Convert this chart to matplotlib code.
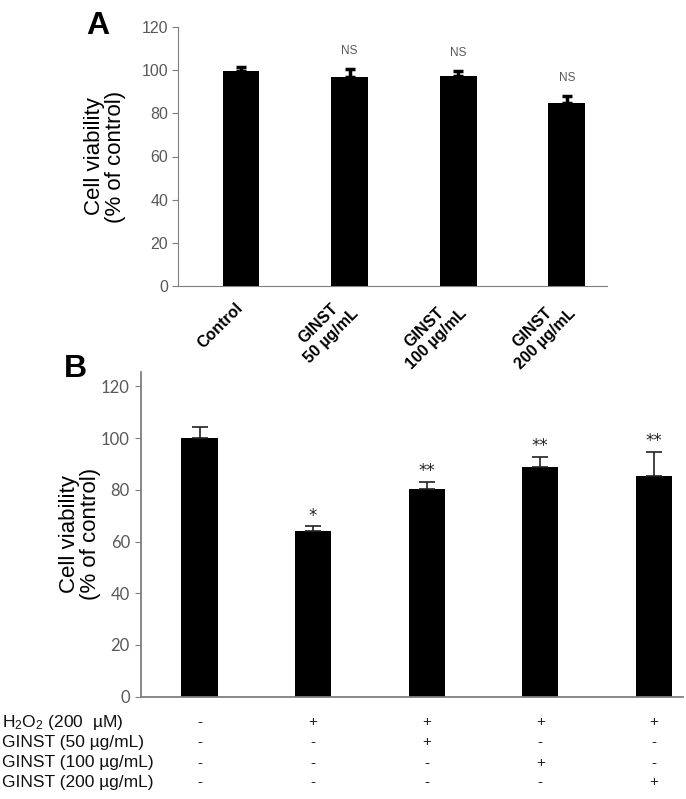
import matplotlib
matplotlib.use("Agg")
import matplotlib.pyplot as plt
import matplotlib.transforms as mtransforms
import numpy as np

plt.rcParams['font.family'] = ['Liberation Sans', 'DejaVu Sans']
plt.rcParams['mathtext.fontset'] = 'custom'
plt.rcParams['mathtext.rm'] = 'Liberation Sans'
plt.rcParams['mathtext.it'] = 'Liberation Sans'

# Panel A data
a_labels = ['Control', 'GINST\n50 µg/mL', 'GINST\n100 µg/mL', 'GINST\n200 µg/mL']
a_values = [99.5, 97.0, 97.5, 85.0]
a_errors = [2.0, 3.5, 2.0, 3.0]
a_marks = ['', 'NS', 'NS', 'NS']
a_yticks = [0, 20, 40, 60, 80, 100, 120]

# Panel B data
b_values = [100.0, 64.0, 80.5, 89.0, 85.5]
b_errors = [4.3, 2.0, 2.6, 3.9, 9.2]
b_marks = ['', '*', '**', '**', '**']
b_yticks = [0, 20, 40, 60, 80, 100, 120]

# treatment table under panel B
row_labels = ['H$_2$O$_2$ (200  µM)', 'GINST (50 µg/mL)', 'GINST (100 µg/mL)', 'GINST (200 µg/mL)']
h2o2 = ['-', '+', '+', '+', '+']
ginst50 = ['-', '-', '+', '-', '-']
ginst100 = ['-', '-', '-', '+', '-']
ginst200 = ['-', '-', '-', '-', '+']

W, H = 686, 799
fig = plt.figure(figsize=(W / 100, H / 100), dpi=100)

def fx(px):
    return px / W

def fy(px):
    return 1 - px / H

grey = '#7f7f7f'
tick_grey = '#595959'

# ---- Panel A ----
axA = fig.add_axes([fx(178), fy(286), fx(607 - 178), (286 - 27) / H])
xa = np.arange(len(a_values))
axA.bar(xa, a_values, width=0.34, color='black')
axA.errorbar(xa, a_values, yerr=[np.zeros(len(a_errors)), a_errors], fmt='none',
             ecolor='black', elinewidth=2.5, capsize=3.5, capthick=2.5)
for x, v, e, m in zip(xa, a_values, a_errors, a_marks):
    if m:
        axA.annotate(m, (x, v + e), xytext=(0, 9), textcoords='offset points',
                     ha='center', va='bottom', fontsize=8.5, color=tick_grey)
axA.set_xlim(-0.58, 3.37)
axA.set_ylim(0, 120)
axA.set_yticks(a_yticks)
axA.set_xticks(xa)
axA.set_xticklabels(a_labels, rotation=45, ha='right', va='center',
                    rotation_mode='anchor', fontweight='bold', fontsize=11.5,
                    multialignment='center', linespacing=1.2)
axA.tick_params(axis='x', length=0, pad=14)
axA.tick_params(axis='y', length=4, color=grey, labelcolor=tick_grey, labelsize=11.5, pad=3)
for s in ['top', 'right']:
    axA.spines[s].set_visible(False)
for s in ['left', 'bottom']:
    axA.spines[s].set_color(grey)
axA.set_ylabel('Cell viability\n(% of control)', fontsize=16, labelpad=11, linespacing=1.0)
fig.text(fx(86), fy(34), 'A', fontsize=23, fontweight='bold', ha='left', va='baseline')

# ---- Panel B ----
axB = fig.add_axes([fx(141), fy(696.7), fx(683 - 141), (696.7 - 372) / H])
xb = np.arange(len(b_values))
axB.bar(xb, b_values, width=0.32, color='black')
axB.errorbar(xb, b_values, yerr=[np.zeros(len(b_errors)), b_errors], fmt='none',
             ecolor='#222222', elinewidth=1.2, capsize=6, capthick=1.2)
for x, v, e, m in zip(xb, b_values, b_errors, b_marks):
    if m:
        axB.annotate(m, (x, v + e), xytext=(0, 1), textcoords='offset points',
                     ha='center', va='bottom', fontsize=12, color='#222222',
                     family=['DejaVu Sans'])
axB.set_xlim(-0.515, 4.256)
axB.set_ylim(0, 125.6)
axB.set_yticks(b_yticks)
axB.set_xticks([])
axB.tick_params(axis='y', length=4, color=grey, labelcolor=tick_grey, labelsize=12, pad=4)
for lab in axB.get_yticklabels():
    lab.set_family(['Lato', 'DejaVu Sans'])
for s in ['top', 'right']:
    axB.spines[s].set_visible(False)
for s in ['left', 'bottom']:
    axB.spines[s].set_color(grey)
    axB.spines[s].set_linewidth(1.3)
axB.set_ylabel('Cell viability\n(% of control)', fontsize=16, labelpad=0, linespacing=1.0)
fig.text(fx(64), fy(377), 'B', fontsize=23, fontweight='bold', ha='left', va='baseline')

# ---- treatment table ----
row_y = [722, 742, 763, 782]
rows = [h2o2, ginst50, ginst100, ginst200]
trans = mtransforms.blended_transform_factory(axB.transData, fig.transFigure)
for lab, ry, signs in zip(row_labels, row_y, rows):
    fig.text(fx(2), fy(ry), lab, fontsize=12.5, ha='left', va='center', color='#111111')
    for x, s in zip(xb, signs):
        axB.text(x, fy(ry), s, transform=trans, fontsize=11, ha='center', va='center',
                 color='#222222', clip_on=False)

fig.savefig('out.png', dpi=100)
